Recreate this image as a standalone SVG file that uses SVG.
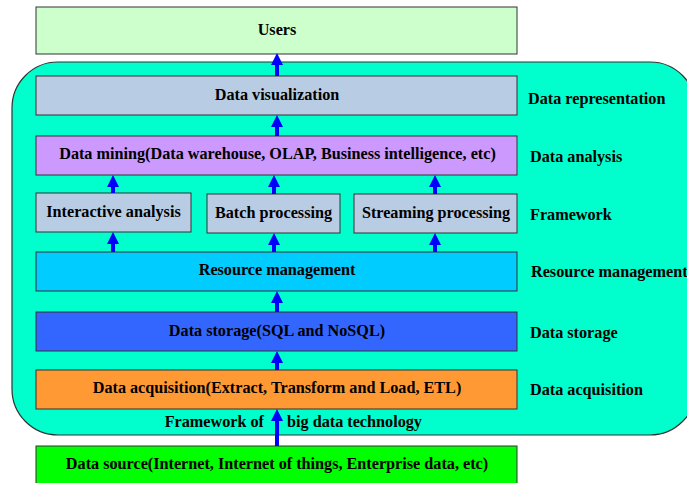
<svg xmlns="http://www.w3.org/2000/svg" width="687" height="483" viewBox="0 0 687 483">
<defs>
<style>
.box{stroke:#333333;stroke-width:1}
.t{font-family:"Liberation Serif","Times New Roman",serif;font-weight:bold;font-size:16.2px;fill:#000}
.c{text-anchor:middle}
.ar{stroke:#0000FF;stroke-width:4;fill:none}
.hd{fill:#0000FF}
</style>
</defs>
<rect width="687" height="483" fill="#FFFFFF"/>
<g id="container">
<rect x="12" y="62" width="684" height="373" rx="46" ry="46" fill="#00FFCC" stroke="#333333" stroke-width="1.2"/>
<text class="t" x="264" y="427" text-anchor="end">Framework of</text>
<text class="t" x="287" y="427">big data technology</text>
</g>
<g id="users"><rect class="box" x="36" y="7" width="481" height="47" fill="#CCFFCC"/><text class="t c" x="277" y="35">Users</text></g>
<g id="visualization"><rect class="box" x="36" y="76" width="481" height="39" fill="#B8CCE4"/><text class="t c" x="277" y="100">Data visualization</text></g>
<g id="mining"><rect class="box" x="36" y="136" width="481" height="39" fill="#CC99FF"/><text class="t c" x="277.5" y="159">Data mining(Data warehouse, OLAP, Business intelligence, etc)</text></g>
<g id="interactive"><rect class="box" x="36" y="193" width="155" height="39" fill="#B8CCE4"/><text class="t c" x="113.5" y="217">Interactive analysis</text></g>
<g id="batch"><rect class="box" x="207" y="194" width="133" height="39" fill="#B8CCE4"/><text class="t c" x="273.5" y="218">Batch processing</text></g>
<g id="streaming"><rect class="box" x="354" y="194" width="163" height="39" fill="#B8CCE4"/><text class="t c" x="436" y="218">Streaming processing</text></g>
<g id="resource"><rect class="box" x="36" y="252" width="481" height="39" fill="#00CCFF"/><text class="t c" x="277" y="275">Resource management</text></g>
<g id="storage"><rect class="box" x="36" y="312" width="481" height="39" fill="#3366FF"/><text class="t c" x="277" y="336">Data storage(SQL and NoSQL)</text></g>
<g id="acquisition"><rect class="box" x="36" y="370" width="481" height="39" fill="#FF9933"/><text class="t c" x="277" y="393">Data acquisition(Extract, Transform and Load, ETL)</text></g>
<g id="source"><rect class="box" x="36" y="446" width="481" height="44" fill="#00FF00"/><text class="t c" x="277" y="469">Data source(Internet, Internet of things, Enterprise data, etc)</text></g>
<g id="labels">
<text class="t" x="528" y="104">Data representation</text>
<text class="t" x="530" y="162">Data analysis</text>
<text class="t" x="530" y="220">Framework</text>
<text class="t" x="531" y="277">Resource management</text>
<text class="t" x="530" y="338">Data storage</text>
<text class="t" x="530" y="395">Data acquisition</text>
</g>
<g id="connectors">
<line class="ar" x1="277" y1="76" x2="277" y2="62"/><path class="hd" d="M271,65 L277,53 L283,65 Z"/>
<line class="ar" x1="277" y1="136" x2="277" y2="124"/><path class="hd" d="M271,127 L277,115 L283,127 Z"/>
<line class="ar" x1="113" y1="193" x2="113" y2="184"/><path class="hd" d="M107,187 L113,175 L119,187 Z"/>
<line class="ar" x1="274" y1="194" x2="274" y2="184"/><path class="hd" d="M268,187 L274,175 L280,187 Z"/>
<line class="ar" x1="435" y1="194" x2="435" y2="184"/><path class="hd" d="M429,187 L435,175 L441,187 Z"/>
<line class="ar" x1="113" y1="252" x2="113" y2="241"/><path class="hd" d="M107,244 L113,232 L119,244 Z"/>
<line class="ar" x1="274" y1="252" x2="274" y2="242"/><path class="hd" d="M268,245 L274,233 L280,245 Z"/>
<line class="ar" x1="435" y1="252" x2="435" y2="242"/><path class="hd" d="M429,245 L435,233 L441,245 Z"/>
<line class="ar" x1="277" y1="312" x2="277" y2="300"/><path class="hd" d="M271,303 L277,291 L283,303 Z"/>
<line class="ar" x1="277" y1="370" x2="277" y2="360"/><path class="hd" d="M271,363 L277,351 L283,363 Z"/>
<line class="ar" x1="277" y1="446" x2="277" y2="418"/><path class="hd" d="M271,421 L277,409 L283,421 Z"/>
</g>
</svg>
